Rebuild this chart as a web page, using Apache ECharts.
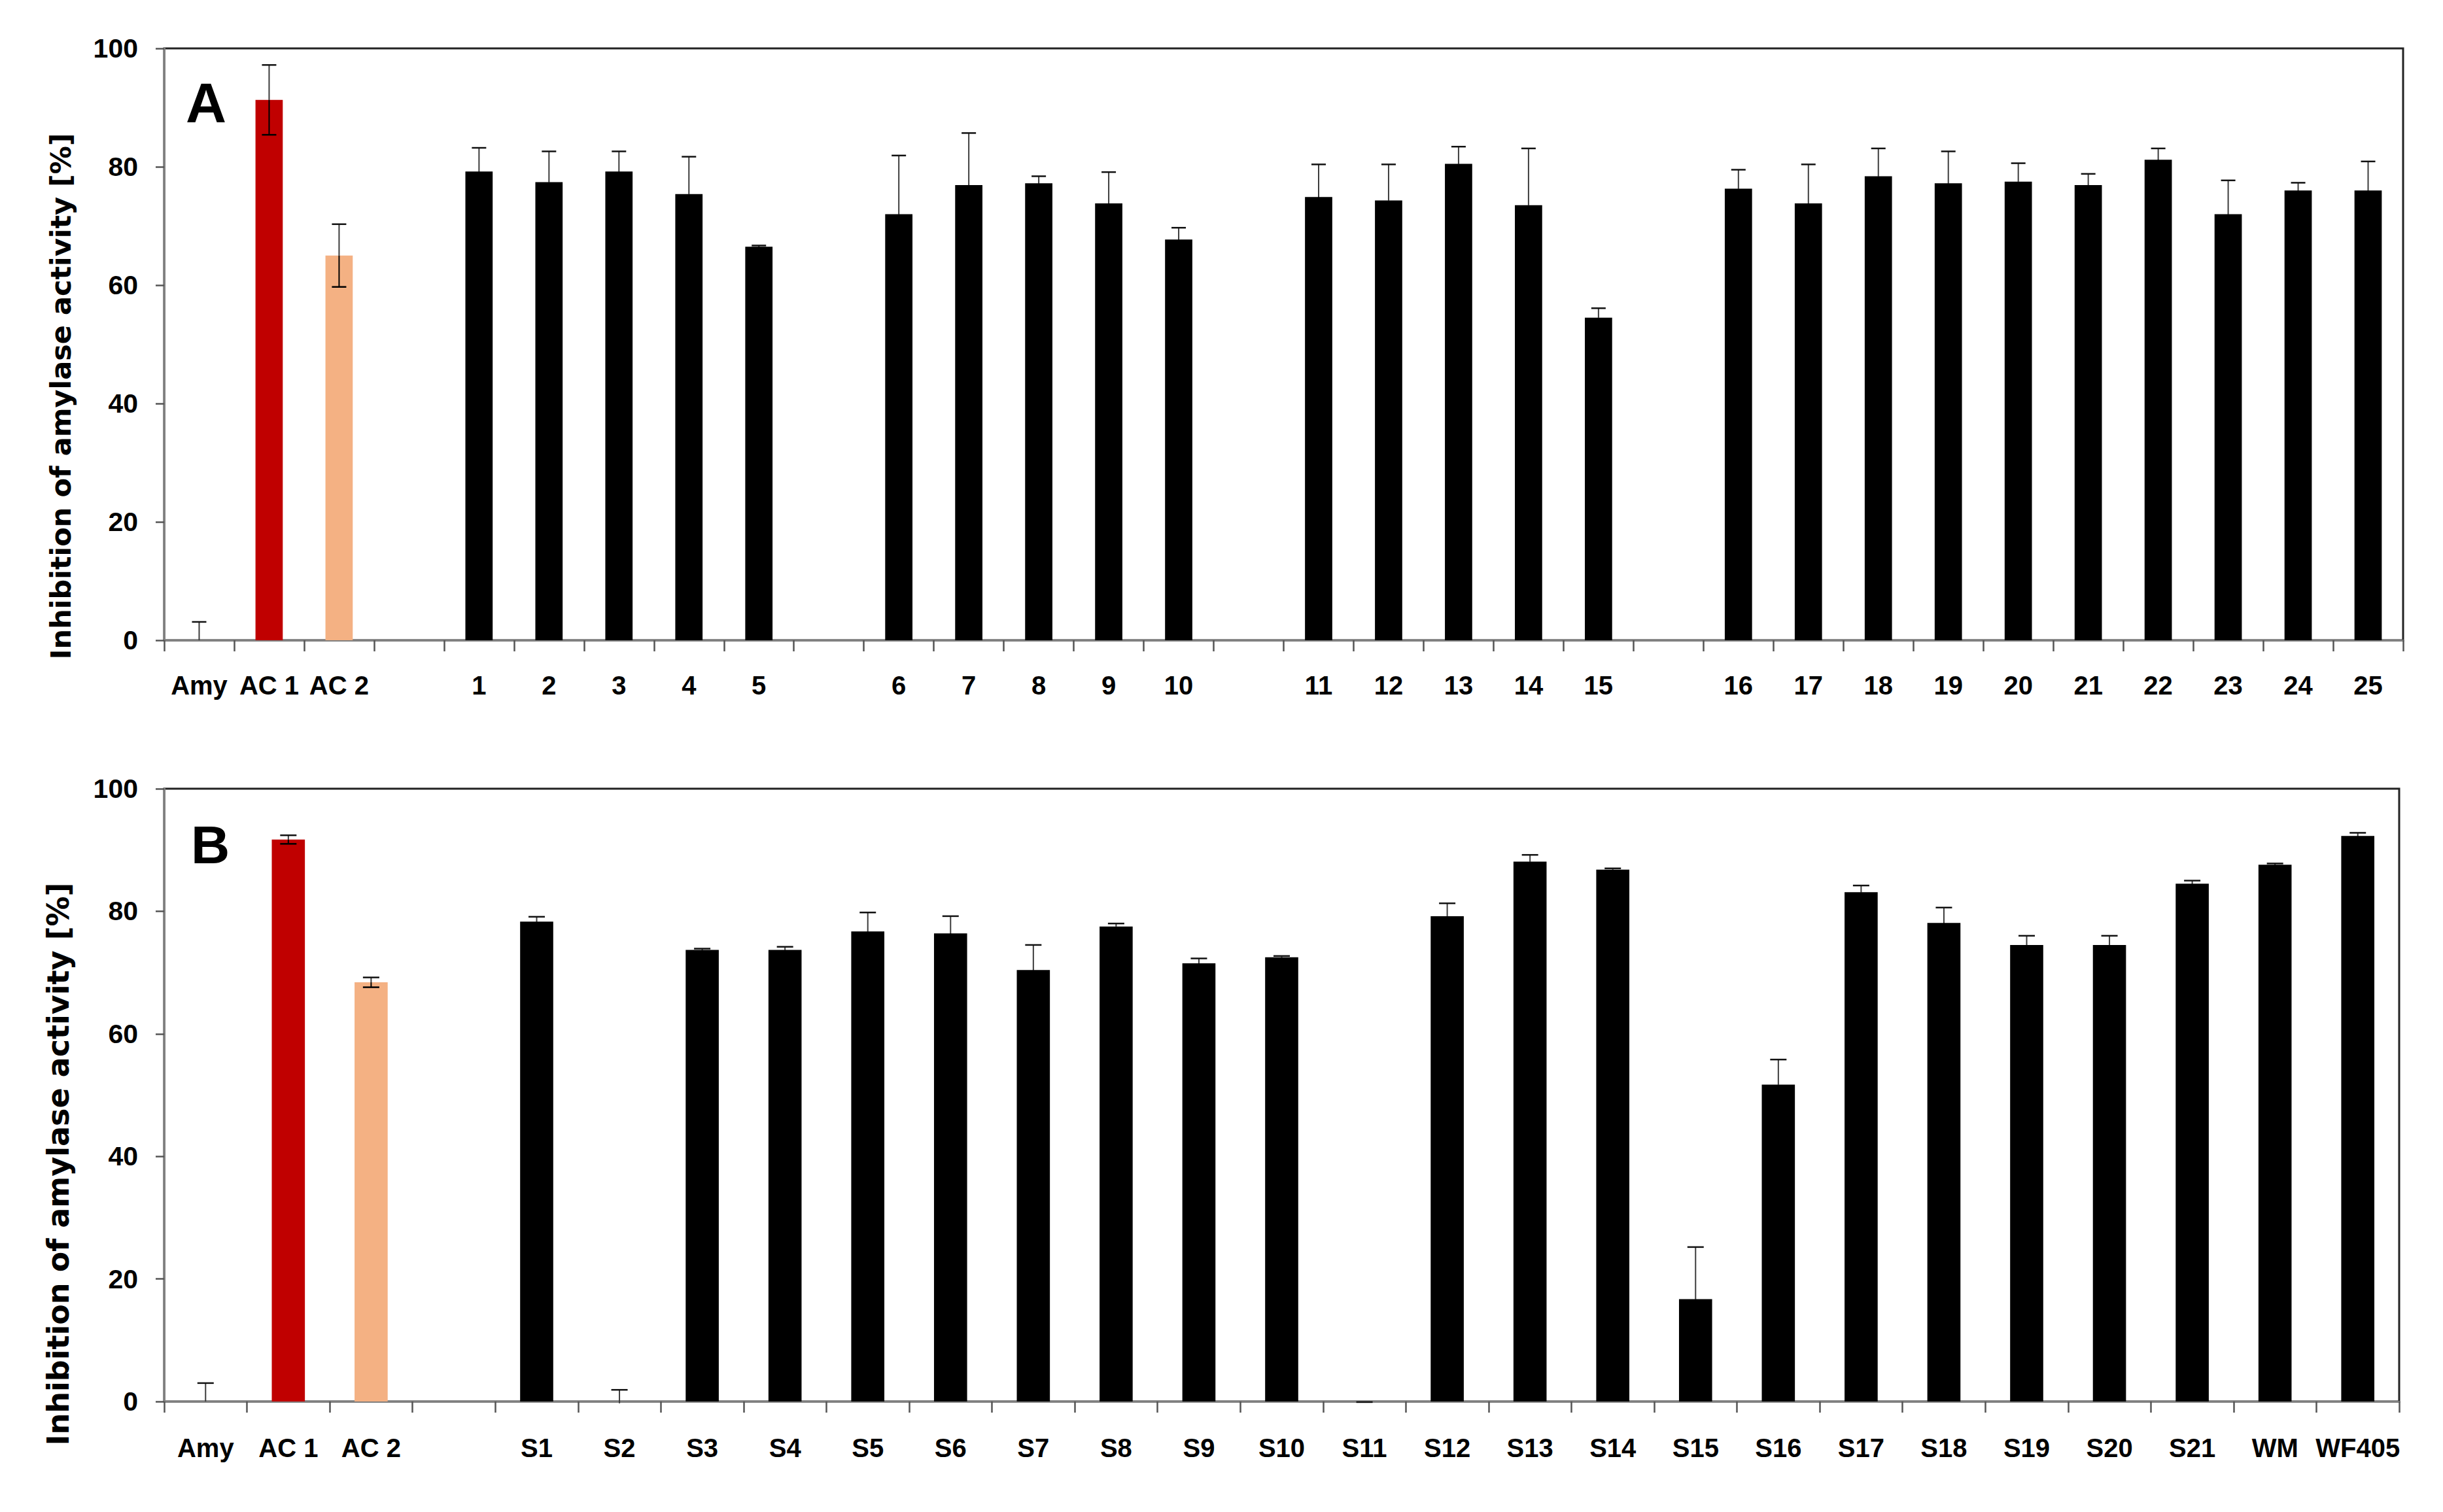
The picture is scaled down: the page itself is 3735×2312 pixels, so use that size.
<!DOCTYPE html>
<html>
<head>
<meta charset="utf-8">
<script src="https://cdn.jsdelivr.net/npm/echarts@6/dist/echarts.min.js"></script>
<style>
  html, body { margin: 0; padding: 0; background: #fff; }
  #main { width: 3735px; height: 2312px; }
</style>
</head>
<body>
<div id="main"></div>
<script>
// panel A: controls + extracts 1-25 (blank strings = spacer categories)
const catsA = ['Amy', 'AC 1', 'AC 2', ' ',
  '1', '2', '3', '4', '5', '  ',
  '6', '7', '8', '9', '10', '   ',
  '11', '12', '13', '14', '15', '    ',
  '16', '17', '18', '19', '20', '21', '22', '23', '24', '25']
const valA = [0, 91.3, 65.0, null,
  79.2, 77.4, 79.2, 75.4, 66.5, null,
  72.0, 76.9, 77.2, 73.8, 67.7, null,
  74.9, 74.3, 80.5, 73.5, 54.5, null,
  76.3, 73.8, 78.4, 77.2, 77.5, 76.9, 81.2, 72.0, 76.0, 76.0]
const errA = [3.1, 5.9, 5.3, null,
  4.0, 5.2, 3.4, 6.3, 0.2, null,
  9.9, 8.8, 1.2, 5.3, 2.0, null,
  5.5, 6.1, 2.9, 9.6, 1.6, null,
  3.2, 6.6, 4.7, 5.4, 3.1, 1.9, 1.9, 5.7, 1.3, 4.9]

// panel B: controls + S1-S21, WM, WF405
const catsB = ['Amy', 'AC 1', 'AC 2', ' ',
  'S1', 'S2', 'S3', 'S4', 'S5', 'S6', 'S7', 'S8', 'S9', 'S10', 'S11',
  'S12', 'S13', 'S14', 'S15', 'S16', 'S17', 'S18', 'S19', 'S20', 'S21', 'WM', 'WF405']
const valB = [0, 91.7, 68.4, null,
  78.3, -0.3, 73.7, 73.7, 76.7, 76.4, 70.4, 77.5, 71.5, 72.5, -0.2,
  79.2, 88.1, 86.8, 16.7, 51.7, 83.1, 78.1, 74.5, 74.5, 84.5, 87.6, 92.3]
const errB = [3.0, 0.7, 0.8, null,
  0.8, 2.2, 0.2, 0.5, 3.1, 2.8, 4.1, 0.5, 0.8, 0.2, 0.1,
  2.1, 1.1, 0.2, 8.5, 4.1, 1.1, 2.5, 1.5, 1.5, 0.5, 0.2, 0.5]

const yTicks = [0, 20, 40, 60, 80, 100]

const LABEL_FONT = "'Liberation Sans Narrow', 'Liberation Sans', sans-serif"
const TITLE_FONT = "'DejaVu Sans', Verdana, sans-serif"

function barColor(p) {
  if (p.dataIndex === 1) return '#C00000'
  if (p.dataIndex === 2) return '#F4B183'
  return '#000000'
}

function errData(vals, errs) {
  const out = []
  vals.forEach((v, i) => {
    if (v !== null) out.push([i, v, errs[i]])
  })
  return out
}

// error bar: grey stem above the bar, black stem inside it (hidden on black bars)
function errRender(capW) {
  return function (params, api) {
    const i = api.value(0)
    const v = api.value(1)
    const e = api.value(2)
    const low = v - e
    const top = api.coord([i, v + e])
    const mid = api.coord([i, v])
    const bot = api.coord([i, low >= 0 ? low : Math.min(v, 0)])
    const upper = { stroke: '#3c3c3c', lineWidth: 2 }
    const lower = { stroke: '#000', lineWidth: 2 }
    const cap = { stroke: '#111', lineWidth: 2.5 }
    const lowCap = { stroke: '#000', lineWidth: 2.5 }
    const kids = [
      { type: 'line', shape: { x1: top[0], y1: top[1], x2: mid[0], y2: mid[1] }, style: upper },
      { type: 'line', shape: { x1: mid[0], y1: mid[1], x2: bot[0], y2: bot[1] }, style: lower },
      { type: 'line', shape: { x1: top[0] - capW / 2, y1: top[1], x2: top[0] + capW / 2, y2: top[1] }, style: cap }
    ]
    if (low >= 0) {
      kids.push({ type: 'line', shape: { x1: bot[0] - capW / 2, y1: bot[1], x2: bot[0] + capW / 2, y2: bot[1] }, style: lowCap })
    }
    return { type: 'group', children: kids }
  }
}

function xAxisCfg(idx, cats, fs, margin) {
  return {
    type: 'category',
    gridIndex: idx,
    data: cats,
    axisLine: { lineStyle: { color: '#808080', width: 3 } },
    axisTick: { show: true, length: 17, lineStyle: { color: '#555', width: 2.5 } },
    axisLabel: {
      interval: 0, margin: margin, color: '#000',
      fontFamily: LABEL_FONT, fontWeight: 'bold', fontSize: fs
    }
  }
}

function yAxisCfg(idx) {
  return {
    type: 'value',
    gridIndex: idx,
    min: yTicks[0],
    max: yTicks[yTicks.length - 1],
    interval: yTicks[1] - yTicks[0],
    splitLine: { show: false },
    axisLine: { show: true, lineStyle: { color: '#808080', width: 3 } },
    axisTick: { show: true, length: 13, lineStyle: { color: '#555', width: 2.5 } },
    axisLabel: {
      margin: 40, color: '#000',
      fontFamily: LABEL_FONT, fontWeight: 'bold', fontSize: 41
    }
  }
}

const chart = echarts.init(document.getElementById('main'), null, { renderer: 'svg' })

chart.setOption({
  animation: false,
  backgroundColor: '#fff',
  grid: [
    { left: 251, top: 74, width: 3423, height: 905, show: true, borderColor: '#222', borderWidth: 3 },
    { left: 251, top: 1206, width: 3417, height: 937, show: true, borderColor: '#222', borderWidth: 3 }
  ],
  xAxis: [
    xAxisCfg(0, catsA, 40, 49),
    xAxisCfg(1, catsB, 40, 51)
  ],
  yAxis: [yAxisCfg(0), yAxisCfg(1)],
  graphic: [
    {
      type: 'text', x: 93, y: 606, rotation: Math.PI / 2,
      style: {
        text: 'Inhibition of amylase activity [%]', fill: '#000',
        font: 'bold 43px ' + TITLE_FONT, textAlign: 'center', textVerticalAlign: 'middle'
      }
    },
    {
      type: 'text', x: 89, y: 1780, rotation: Math.PI / 2,
      style: {
        text: 'Inhibition of amylase activity [%]', fill: '#000',
        font: 'bold 46px ' + TITLE_FONT, textAlign: 'center', textVerticalAlign: 'middle'
      }
    },
    {
      type: 'text', x: 284, y: 157,
      style: { text: 'A', fill: '#000', font: 'bold 86px ' + LABEL_FONT, textAlign: 'left', textVerticalAlign: 'middle' }
    },
    {
      type: 'text', x: 292, y: 1291,
      style: { text: 'B', fill: '#000', font: 'bold 82px ' + LABEL_FONT, textAlign: 'left', textVerticalAlign: 'middle' }
    }
  ],
  series: [
    {
      type: 'bar', xAxisIndex: 0, yAxisIndex: 0,
      data: valA.map(v => (v === null ? '-' : v)),
      barWidth: '39%',
      itemStyle: { color: barColor }
    },
    {
      type: 'custom', xAxisIndex: 0, yAxisIndex: 0, z: 3,
      renderItem: errRender(22),
      data: errData(valA, errA)
    },
    {
      type: 'bar', xAxisIndex: 1, yAxisIndex: 1,
      data: valB.map(v => (v === null ? '-' : v)),
      barWidth: '40%',
      itemStyle: { color: barColor }
    },
    {
      type: 'custom', xAxisIndex: 1, yAxisIndex: 1, z: 3,
      renderItem: errRender(25),
      data: errData(valB, errB)
    }
  ]
})
</script>
</body>
</html>
